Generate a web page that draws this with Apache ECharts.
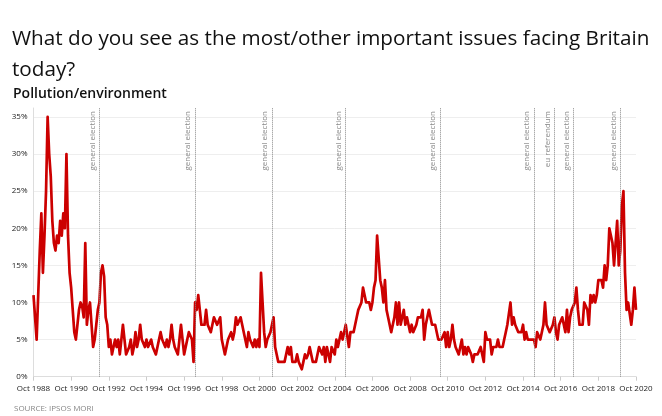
<!DOCTYPE html>
<html><head><meta charset="utf-8">
<script src="https://cdn.jsdelivr.net/npm/echarts@6/dist/echarts.min.js"></script>
<style>html,body{margin:0;padding:0;background:#fff}#c{width:662px;height:416px}</style>
</head><body><div id="c"></div>
<script>
// Monthly series starting Oct 1988
const startYear = 1988;
const startMonthIndex = 9; // October
const monthNames = ['Jan','Feb','Mar','Apr','May','Jun','Jul','Aug','Sep','Oct','Nov','Dec'];

const values = [
  // Oct 1988 - Oct 1992
  11, 8, 5, 11, 17, 22, 14, 19, 25, 35, 30, 27, 21, 18, 17, 19, 18, 21, 19, 22, 20, 30, 19, 14,
  12, 9, 6, 5, 5, 9, 10, 9.5, 8, 18, 7, 9, 10, 7, 4, 5, 7, 9, 10, 14, 15, 13.5, 8, 7, 4,
  // Nov 1992 - Mar 1994
  5, 3, 4, 5, 4, 5, 3, 5, 7, 5, 3, 3, 4, 5, 3, 4, 6,
  // Apr 1994 - Jul 2002
  4, 5, 7, 5, 5, 4, 5, 4, 4, 5, 4, 4, 3, 4, 5, 6, 5, 5, 4, 5, 4, 5, 7, 5, 4, 4, 3, 5, 7, 5,
  3, 4, 5, 6, 6, 5, 2, 10, 9, 11, 9, 7, 7, 7, 9, 7, 7, 6, 7, 8, 8, 7, 7, 8, 5, 5, 3, 4, 5, 5,
  6, 5, 6, 8, 7, 7, 8, 7, 6, 6, 4, 6, 5, 5, 4, 5, 4, 5, 4, 14, 10, 6, 4, 5, 5, 6, 7, 8, 4, 3,
  2, 2, 2, 2, 2, 3, 4, 3, 4, 2,
  // Aug 2002 - Apr 2012
  2, 2, 3, 2, 2, 1, 2, 3, 2.5, 3, 4, 4, 2, 2, 2, 2, 4, 4, 3, 4, 2, 4, 3, 2, 4, 4, 3, 5, 4, 5,
  6, 5, 6, 7, 7, 4, 6, 6, 6, 7, 8, 9, 9, 10, 12, 11, 10, 10, 10, 9, 10, 12, 13, 19, 16, 13, 12, 10, 13, 9,
  8, 7, 6, 7, 8, 10, 7, 10, 7, 8, 9, 7, 8, 7, 6, 7, 6, 6, 7, 8, 8, 8, 9, 5, 7, 8, 9, 8, 7, 7,
  7, 6, 5, 5, 5, 5, 6, 4, 6, 4, 5, 7, 5, 4, 4, 3, 4, 5, 3, 4, 3, 4, 4,
  // May 2012 - Oct 2020
  3, 2, 3, 3, 3, 3, 4, 3, 2, 6, 5, 5, 5, 3, 4, 4, 4, 5, 4, 4, 4, 5, 6, 7, 7, 10, 7, 8, 7, 7,
  6, 6, 6, 7, 5, 6, 5, 5, 5, 5, 5, 4, 6, 6, 5, 5, 7, 10, 7, 7, 6, 6, 7, 8, 6, 5, 7, 7, 8, 8,
  6, 9, 6, 8, 9, 9, 10, 12, 9, 7, 7, 7, 10, 10, 9, 7, 11, 10, 11, 10, 11, 13, 13, 13, 12, 15, 13, 15, 20, 20,
  18, 15, 15, 21, 15, 17, 23, 25, 14, 9, 10, 10, 7, 9, 12, 9
];

const tickLabels = ['Oct 1988','Oct 1990','Oct 1992','Oct 1994','Oct 1996','Oct 1998','Oct 2000','Oct 2002',
  'Oct 2004','Oct 2006','Oct 2008','Oct 2010','Oct 2012','Oct 2014','Oct 2016','Oct 2018','Oct 2020'];

const eventMonths = ['Apr 1992','May 1997','Jun 2001','May 2005','May 2010','May 2015','Jun 2016','Jun 2017','Dec 2019'];
const eventNames = ['general election','general election','general election','general election','general election',
  'general election','eu referendum','general election','general election'];

const categories = values.map((_, i) => {
  const m = startMonthIndex + i;
  return monthNames[m % 12] + ' ' + (startYear + Math.floor(m / 12));
});

const FONT = 'Open Sans';
const chart = echarts.init(document.getElementById('c'), null, {renderer: 'canvas'});
chart.setOption({
  animation: false,
  backgroundColor: '#fff',
  textStyle: {fontFamily: FONT},
  title: [
    {text: 'What do you see as the most/other important issues facing Britain\ntoday?', left: 7, top: 19,
     textStyle: {fontFamily: FONT, fontSize: 20.7, fontWeight: 'normal', color: '#111', lineHeight: 31}},
    {text: 'Pollution/environment', left: 8, top: 82,
     textStyle: {fontFamily: FONT, fontSize: 14, fontWeight: 600, color: '#111'}},
    {text: 'SOURCE: IPSOS MORI', left: 9, top: 400,
     textStyle: {fontFamily: FONT, fontSize: 8, fontWeight: 'normal', color: '#888'}}
  ],
  grid: {left: 33.5, right: 26, top: 108, bottom: 39.3, containLabel: false},
  xAxis: {
    type: 'category', data: categories, boundaryGap: false,
    axisLine: {show: true, lineStyle: {color: '#ddd'}},
    axisTick: {show: true, length: 4, lineStyle: {color: '#ccc'}, interval: (i, v) => tickLabels.includes(v)},
    axisLabel: {interval: (i, v) => tickLabels.includes(v), fontSize: 8, color: '#222', margin: 8, fontFamily: FONT},
    splitLine: {show: false}
  },
  yAxis: {
    type: 'value', min: 0, max: 36.2, interval: 5,
    axisLine: {show: true, lineStyle: {color: '#ddd'}},
    axisTick: {show: false},
    axisLabel: {formatter: '{value}%', fontSize: 8, color: '#222', margin: 6, showMaxLabel: false, fontFamily: FONT},
    splitLine: {show: true, showMaxLine: false, lineStyle: {color: '#eee'}}
  },
  series: [{
    type: 'line', data: values, showSymbol: false, symbol: 'none',
    lineStyle: {color: '#cc0000', width: 2.7, join: 'round'},
    itemStyle: {color: '#cc0000'},
    markLine: {
      silent: true, symbol: ['none', 'none'],
      lineStyle: {color: '#888', type: 'dotted', width: 1},
      label: {position: 'insideEndTop', fontSize: 8, color: '#888', distance: 3, fontFamily: FONT},
      data: eventMonths.map((m, i) => ({xAxis: m, label: {formatter: eventNames[i]}}))
    }
  }]
});
</script></body></html>
